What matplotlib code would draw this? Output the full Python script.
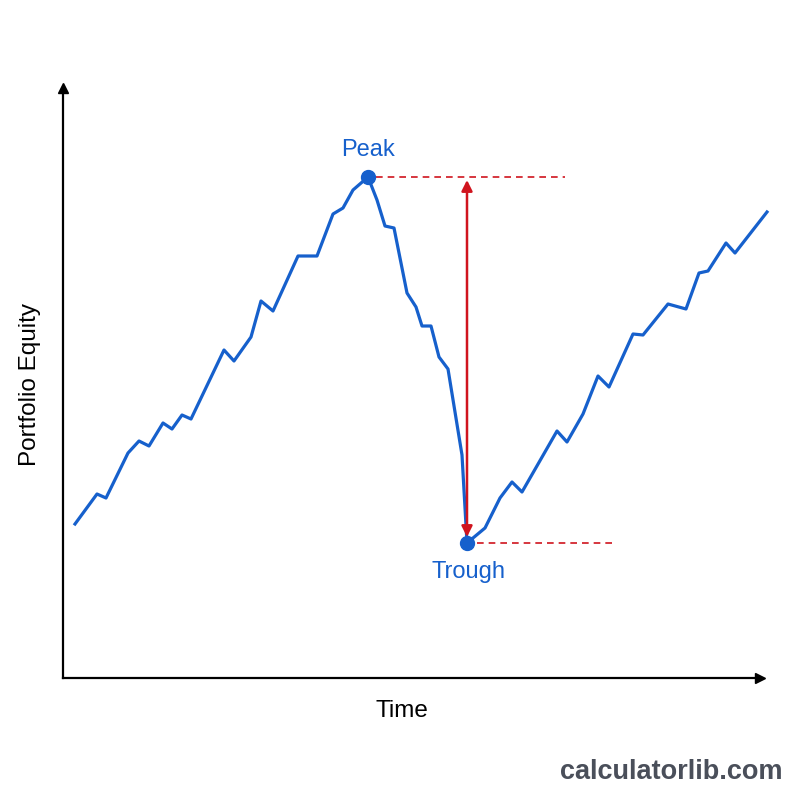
import matplotlib.pyplot as plt

plt.rcParams['font.family'] = ['Liberation Sans', 'DejaVu Sans']

# equity curve (time, equity in arbitrary units)
time = [12, 34, 43, 65, 76, 86, 100, 109, 119, 128, 161, 171, 188, 198, 210,
        235, 254, 270, 280, 290, 305, 314, 322, 331, 344, 353, 359, 368, 376,
        385, 399, 404, 422, 437, 449, 459, 494, 504, 520, 535, 546, 570, 580,
        605, 623, 636, 645, 663, 672, 704]
equity = [154, 184, 180, 225, 237, 232, 255, 249, 263, 259, 328, 317, 341, 377,
          367, 422, 422, 464, 470, 488, 501, 478, 452, 450, 385, 371, 352, 352,
          321, 309, 223, 135, 150, 180, 196, 186, 247, 236, 264, 302, 291, 344,
          343, 374, 369, 405, 407, 435, 425, 466]
peak_idx = 20
trough_idx = 31

blue = "#1660cc"
red = "#d0141e"

fig = plt.figure(figsize=(8, 8), dpi=100)
ax = fig.add_axes([63 / 800, 122 / 800, 697 / 800, 590 / 800])
ax.set_xlim(0, 697)
ax.set_ylim(0, 590)

ax.plot(time, equity, color=blue, lw=2.3, zorder=3, clip_on=False)

px, py = time[peak_idx], equity[peak_idx]
tx, ty = time[trough_idx], equity[trough_idx]
ax.plot([px, tx], [py, ty], "o", color=blue, ms=10, zorder=4)

ax.plot([px + 8, 502], [py, py], ls=(0, (4, 3)), color=red, lw=1.2, zorder=2)
ax.plot([tx + 10, 552], [ty, ty], ls=(0, (4, 3)), color=red, lw=1.2, zorder=2)
ax.annotate("", xy=(tx, ty + 6), xytext=(tx, py - 3),
            arrowprops=dict(arrowstyle="<|-|>", color=red, lw=1.8,
                            mutation_scale=16, shrinkA=0, shrinkB=0), zorder=3)

ax.text(px, py + 27, "Peak", color=blue, fontsize=17, ha="center", va="center")
ax.text(tx + 1, ty - 29, "Trough", color=blue, fontsize=17, ha="center", va="center")

# arrow-style axes
for s in ["top", "right"]:
    ax.spines[s].set_visible(False)
for s in ["left", "bottom"]:
    ax.spines[s].set_linewidth(1.6)
ax.set_xticks([])
ax.set_yticks([])
ax.plot(1, 0, ">k", ms=7, transform=ax.transAxes, clip_on=False)
ax.plot(0, 1, "^k", ms=7, transform=ax.transAxes, clip_on=False)

fig.text(402 / 800, 1 - 711 / 800, "Time", fontsize=17.5, ha="center", va="center")
fig.text(30 / 800, 1 - 385 / 800, "Portfolio Equity", fontsize=17.5,
         rotation=90, ha="center", va="center")
fig.text(671 / 800, 1 - 772 / 800, "calculatorlib.com", fontsize=19.5,
         fontweight="bold", color="#4a4f5a", ha="center", va="center")

fig.savefig("out.png", dpi=100, facecolor="white")
